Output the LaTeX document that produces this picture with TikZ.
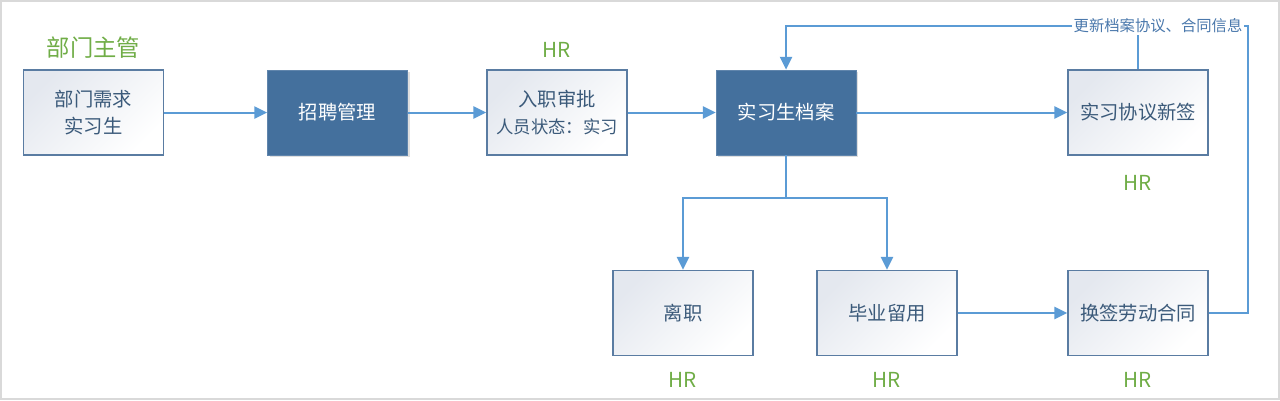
\documentclass[tikz,border=0pt]{standalone}
\usepackage{fontspec}
\setmainfont{Noto Sans CJK SC}
\usetikzlibrary{arrows.meta,shadows}
\definecolor{linec}{HTML}{5B9BD5}
\definecolor{darkbox}{HTML}{44709D}
\definecolor{lightedge}{HTML}{5A7CA2}
\definecolor{lighttext}{HTML}{3B5A7A}
\definecolor{lightfill}{HTML}{E4E8EF}
\definecolor{greenc}{HTML}{70AD47}
\definecolor{labelc}{HTML}{4A78AC}
\definecolor{framec}{HTML}{D9D9D9}
\tikzset{
  boxbase/.style={minimum width=105pt, minimum height=63.75pt, inner sep=2pt, align=center,
    font=\fontsize{14.5}{20}\selectfont},
  lightbox/.style={boxbase, draw=lightedge, line width=1.3pt, top color=lightfill, bottom color=white,
    shading angle=45, text=lighttext},
  darkbox/.style={boxbase, fill=darkbox, draw=darkbox!85!white, line width=0.6pt, text=white,
    drop shadow={shadow xshift=1.5pt, shadow yshift=-1.5pt, opacity=0.25, fill=black!50}},
  role/.style={text=greenc, font=\fontsize{15.5}{18}\selectfont},
  conn/.style={draw=linec, line width=1.5pt},
  arr/.style={conn, -{Triangle[length=9.5pt, width=9pt]}},
}
\begin{document}
\begin{tikzpicture}[x=0.75pt,y=-0.75pt]
\useasboundingbox (0,0) rectangle (1280,400);
\draw[framec, line width=1.5pt] (1,1) rectangle (1279,399);

\node[lightbox] (A) at (93.5,112.5) {部门需求\\实习生};
\node[darkbox]  (B) at (337.5,112.5) {招聘管理};
\node[lightbox] (C) at (557,112.5) {入职审批\\{\fontsize{13}{18}\selectfont 人员状态：实习}};
\node[darkbox]  (D) at (786,112.5) {实习生档案};
\node[lightbox] (E) at (1138,112.5) {实习协议新签};
\node[lightbox] (F) at (683,313) {离职};
\node[lightbox] (G) at (887,313) {毕业留用};
\node[lightbox] (H) at (1138,313) {换签劳动合同};

\node[role, font=\fontsize{17.5}{20}\selectfont] (rA) at (93.5,48) {部门主管};
\node[role] (rC) at (557,50) {HR};
\node[role] (rE) at (1138,183) {HR};
\node[role] (rF) at (683,380) {HR};
\node[role] (rG) at (887,380) {HR};
\node[role] (rH) at (1138,380) {HR};

\node[text=labelc, font=\fontsize{11.5}{13}\selectfont, inner sep=1pt, fill=white] (L) at (1158,26) {更新档案协议、合同信息};

\draw[arr] (A) -- (B);
\draw[arr] (B) -- (C);
\draw[arr] (C) -- (D);
\draw[arr] (D) -- (E);

\coordinate (j) at (786,198);
\draw[conn] (D.south) -- (j);
\draw[arr] (j) -| (F.north);
\draw[arr] (j) -| (G.north);
\draw[arr] (G) -- (H);

\coordinate (rc) at (1248,26);
\draw[conn] (H.east) -| (rc) -- (L.east);
\draw[arr] (L.west) -| (D.north);
\draw[conn] (E.north) -- (E.north |- L.south);
\end{tikzpicture}
\end{document}
